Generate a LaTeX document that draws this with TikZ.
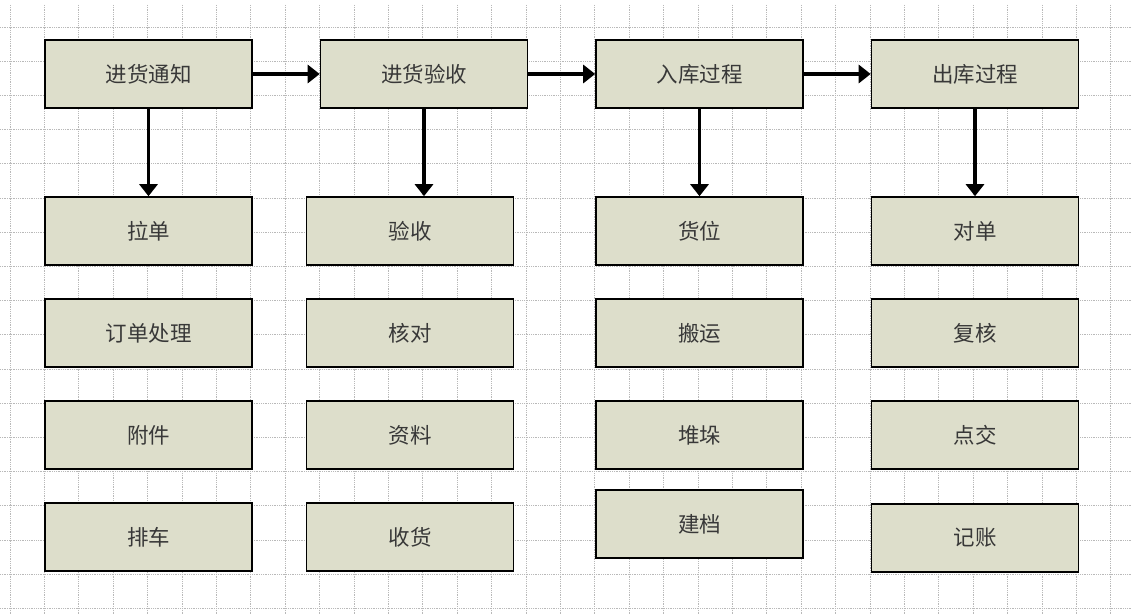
\documentclass[tikz,border=0pt]{standalone}
\usepackage{fontspec}
\usepackage{tikz}
\usetikzlibrary{arrows.meta}
\newfontfamily\cjk{Noto Sans CJK SC}
\definecolor{boxfill}{RGB}{221,222,203}
\definecolor{gridgray}{RGB}{185,185,185}

\begin{document}
\begin{tikzpicture}[x=1pt,y=-1pt,
  stage/.style={draw=black,line width=1.6pt,fill=boxfill,minimum width=207pt,minimum height=68pt,
    inner sep=0pt,font=\cjk\fontsize{21.5}{21.5}\selectfont,text=black!78},
  flow/.style={line width=3.5pt,-{Triangle[length=12pt,width=18pt]}}]
  \useasboundingbox (0,0) rectangle (1131,615);
  \fill[white] (0,0) rectangle (1131,615);
  % grid
  \foreach \k in {0,...,32}
    \draw[gridgray,densely dotted,line width=0.8pt] (10+34.4*\k,5) -- (10+34.4*\k,615);
  \foreach \k in {0,...,17}
    \draw[gridgray,densely dotted,line width=0.8pt] (0,27+34.2*\k) -- (1131,27+34.2*\k);
  % top row
  \node[stage] (tongzhi) at (148.5,74) {进货通知};
  \node[stage] (yanshou) at (424,74) {进货验收};
  \node[stage] (ruku) at (699.5,74) {入库过程};
  \node[stage] (chuku) at (975,74) {出库过程};
  % column 1
  \node[stage] (ladan) at (148.5,231) {拉单};
  \node[stage] (dingdan) at (148.5,333) {订单处理};
  \node[stage] (fujian) at (148.5,435) {附件};
  \node[stage] (paiche) at (148.5,537) {排车};
  % column 2
  \node[stage] (yan) at (410,231) {验收};
  \node[stage] (hedui) at (410,333) {核对};
  \node[stage] (ziliao) at (410,435) {资料};
  \node[stage] (shouhuo) at (410,537) {收货};
  % column 3
  \node[stage] (huowei) at (699.5,231) {货位};
  \node[stage] (banyun) at (699.5,333) {搬运};
  \node[stage] (duiduo) at (699.5,435) {堆垛};
  \node[stage] (jiandang) at (699.5,524) {建档};
  % column 4
  \node[stage] (duidan) at (975,231) {对单};
  \node[stage] (fuhe) at (975,333) {复核};
  \node[stage] (dianjiao) at (975,435) {点交};
  \node[stage] (jizhang) at (975,538) {记账};
  % arrows
  \draw[flow] (tongzhi) -- (yanshou);
  \draw[flow] (yanshou) -- (ruku);
  \draw[flow] (ruku) -- (chuku);
  \draw[flow] (tongzhi.south) -- (tongzhi.south |- ladan.north);
  \draw[flow] (yanshou.south) -- (yanshou.south |- yan.north);
  \draw[flow] (ruku.south) -- (ruku.south |- huowei.north);
  \draw[flow] (chuku.south) -- (chuku.south |- duidan.north);
\end{tikzpicture}
\end{document}
